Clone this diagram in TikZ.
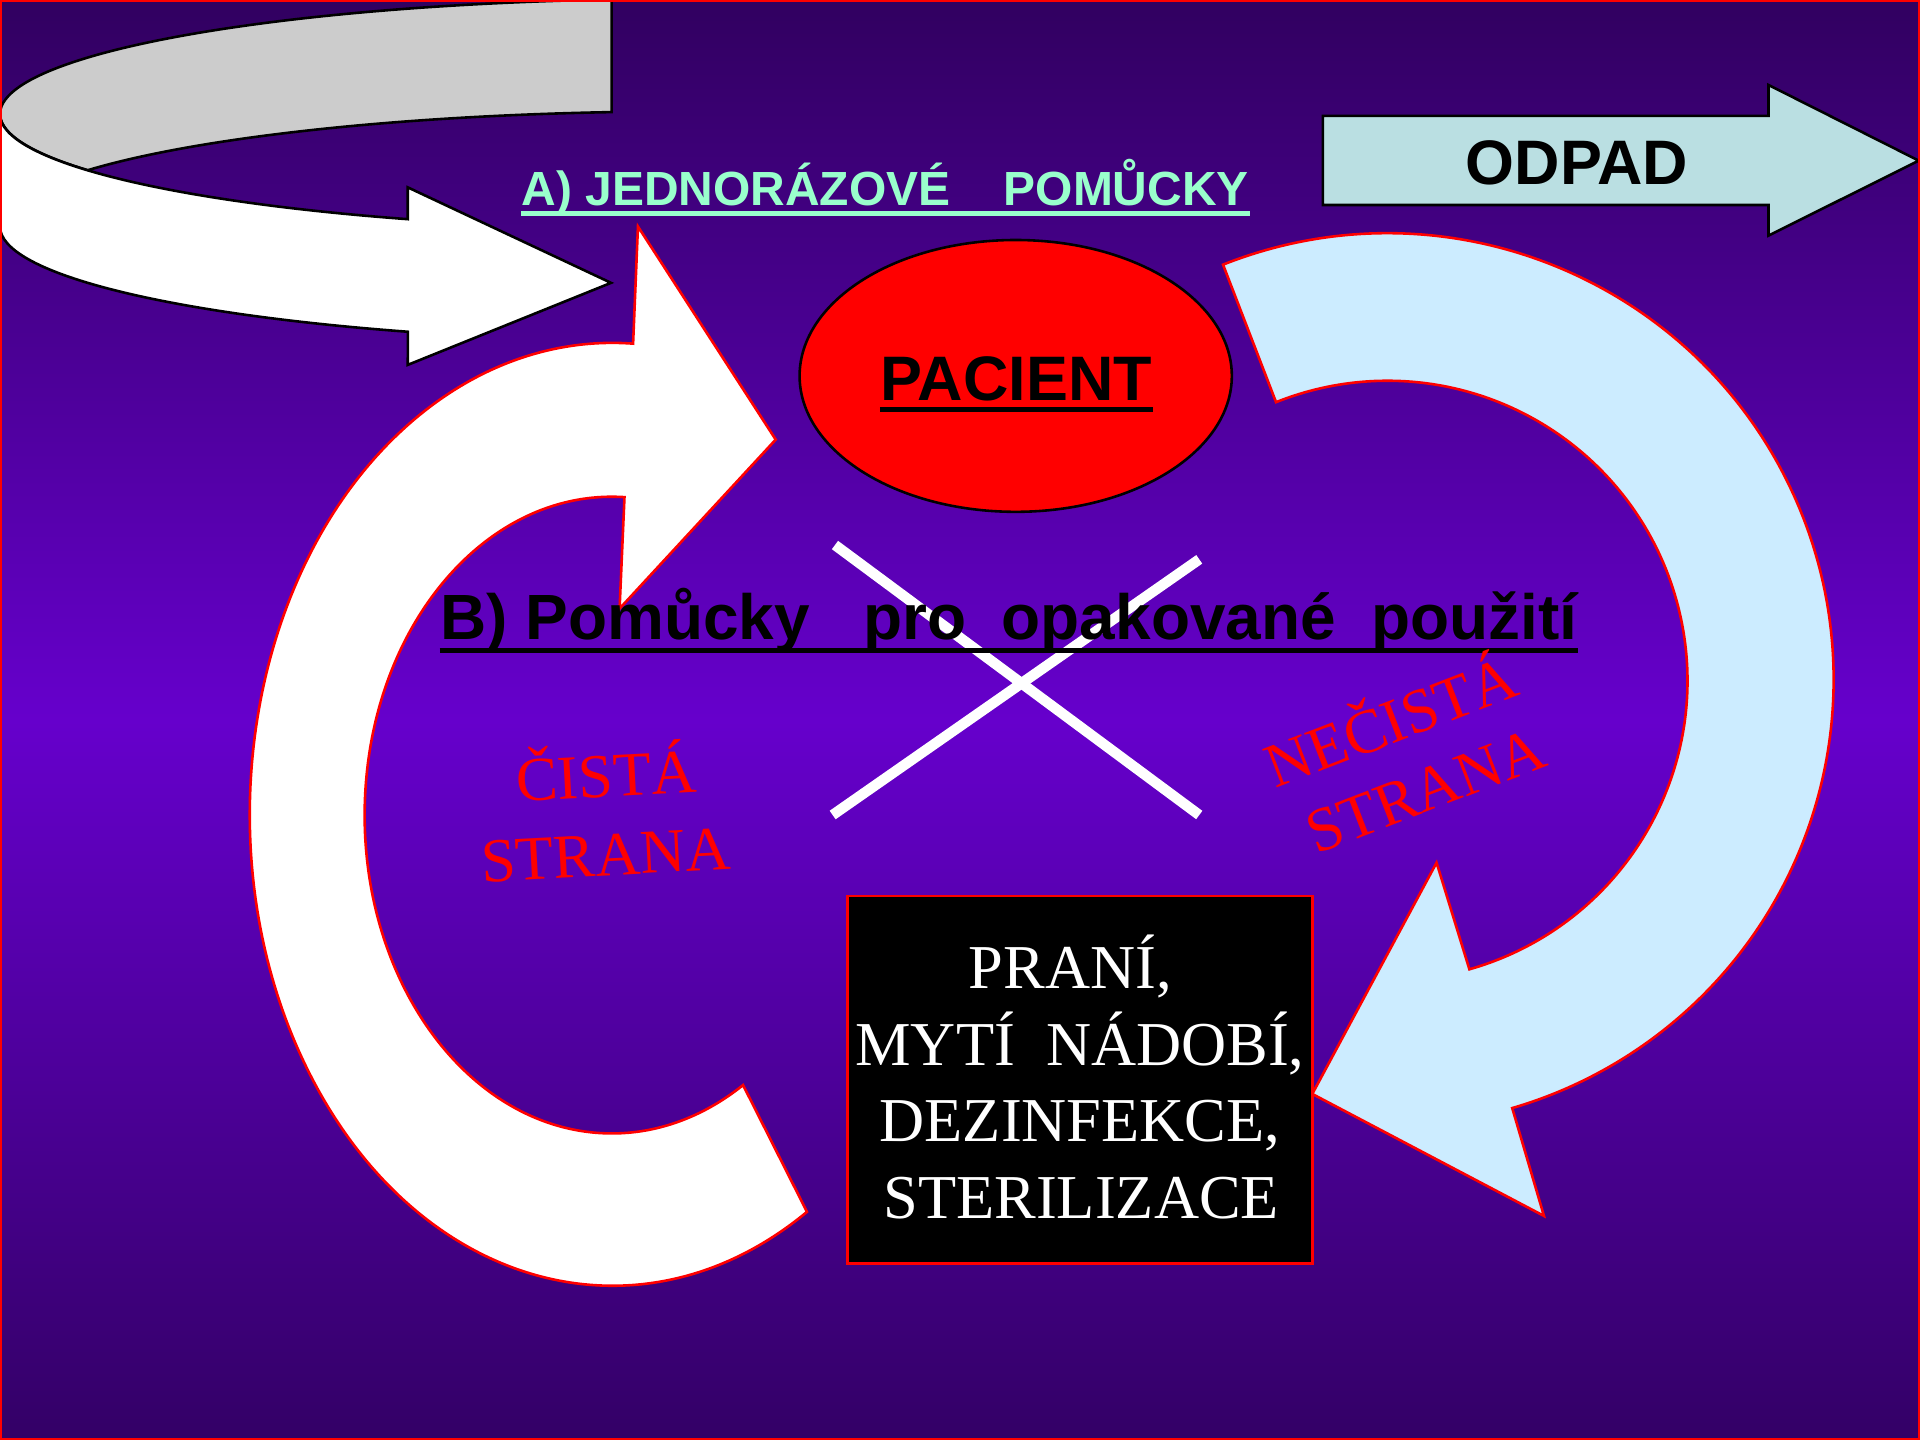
\documentclass[tikz,border=0pt]{standalone}
\usepackage{fontspec}
\setmainfont{Liberation Serif}
\newfontfamily\arialfont{Liberation Sans}
\usetikzlibrary{calc}

\definecolor{bgtop}{HTML}{310060}
\definecolor{bgbot}{HTML}{330066}
\definecolor{bgmid}{HTML}{6600CC}
\definecolor{aqua}{HTML}{99FFCC}
\definecolor{ribgray}{HTML}{CCCCCC}
\definecolor{odpadfill}{HTML}{BADFE2}
\definecolor{skyfill}{HTML}{CCECFF}
\definecolor{pptred}{HTML}{FF0000}

\begin{document}
\begin{tikzpicture}[x=0.01cm,y=-0.01cm,
  outlineblk/.style={draw=black,line width=0.6pt,line join=miter},
  outlinered/.style={draw=pptred,line width=0.6pt,line join=miter},
  sansbig/.style={font=\arialfont\bfseries\fontsize{14.6}{17}\selectfont,inner sep=0pt,anchor=base},
  sanstitle/.style={font=\arialfont\bfseries\fontsize{14.85}{17}\selectfont,inner sep=0pt,anchor=base},
  sanssmall/.style={font=\arialfont\bfseries\fontsize{11.13}{13}\selectfont,inner sep=0pt,anchor=base},
  serifbig/.style={font=\fontsize{14.5}{17}\selectfont,inner sep=0pt,anchor=base},
  uline/.style={line width=0.04cm},
  crossline/.style={draw=white,line width=0.085cm},
]
\useasboundingbox (0,0) rectangle (1568,1176);
% background
\fill[top color=bgtop, bottom color=bgbot, middle color=bgmid] (0,0) rectangle (1568,1176);

% top-left ribbon arrow: grey back side
\draw[outlineblk, fill=ribgray] (560,93) ++(263.8:560 and 94)
  arc[start angle=263.8, end angle=150.7, x radius=560, y radius=94]
  arc[start angle=209.3, end angle=263.8, x radius=560, y radius=94] -- cycle;
% white front side with arrow head
\draw[outlineblk, fill=white] (0,93) -- (0,185)
  arc[start angle=180, end angle=113.9, x radius=560, y radius=94]
  -- (333,298) -- (499,231) -- (333,153) -- (333,179)
  arc[start angle=113.9, end angle=180, x radius=560, y radius=94] -- cycle;

% title A
\node[sanssmall, text=aqua] (atitle) at (723,167.9) {A) JEDNORÁZOVÉ\ \ \ \ POMŮCKY};
\draw[aqua, uline] ($(atitle.base west)+(0,6.5)$) -- ($(atitle.base east)+(0,6.5)$);

% ODPAD arrow
\draw[outlineblk, fill=odpadfill] (1080.4,94.7) -- (1444.3,94.7) -- (1444.3,69.4)
  -- (1567,131.2) -- (1444.3,192.4) -- (1444.3,167.4) -- (1080.4,167.4) -- cycle;
\node[sansbig] (odpad) at (1288,150.5) {ODPAD};

% right light-blue circular arrow
\draw[outlinered, fill=skyfill] (1133,555) ++(248.4:364.5)
  arc[start angle=248.4, end angle=433.75, radius=364.5]
  -- (1260.9,993) -- (1071.7,893.4) -- (1173.2,704.5) -- (1200,791.6)
  arc[start angle=74.15, end angle=-111.8, radius=245] -- cycle;

% left white circular arrow
\draw[outlinered, fill=white] (500,665) ++(57.5:296 and 385)
  arc[start angle=57.5, end angle=273.3, x radius=296, y radius=385]
  -- (521,185) -- (633.5,359) -- (506,497) -- (510,406)
  arc[start angle=272.9, end angle=58, x radius=202, y radius=260] -- cycle;

% PACIENT
\draw[outlineblk, fill=pptred] (829.5,307) ellipse[x radius=176.5, y radius=111];
\node[sansbig] (pacient) at (830,327) {PACIENT};
\draw[black, uline] ($(pacient.base west)+(0,7.5)$) -- ($(pacient.base east)+(0,7.5)$);

% cross
\coordinate (c1a) at (681.9,445.1);
\coordinate (c1b) at (979.4,665.6);
\coordinate (c2a) at (979.4,456.8);
\coordinate (c2b) at (680,665.6);
\draw[crossline] (c1a) -- (c1b);
\draw[crossline] (c2a) -- (c2b);

% title B
\node[sanstitle] (btitle) at (824,522.6) {B) Pomůcky\ \ \ pro\ \ opakované\ \ použití};
\draw[black, uline] ($(btitle.base west)+(0,9)$) -- ($(btitle.base east)+(0,9)$);

% red labels
\node[serifbig, text=pptred, rotate=3] (cista1) at (496,651) {ČISTÁ};
\node[serifbig, text=pptred, rotate=3] (cista2) at (495.5,715) {STRANA};
\node[serifbig, text=pptred, rotate=21] (necista1) at (1142,605.7) {NEČISTÁ};
\node[serifbig, text=pptred, rotate=21] (necista2) at (1170,661.4) {STRANA};

% black box
\node[draw=pptred, fill=black, line width=0.6pt, minimum width=3.8cm, minimum height=3.0cm, inner sep=0pt] (box) at (882,881.75) {};
\node[serifbig, text=white] (l1) at (874,807.2) {PRANÍ,};
\node[serifbig, text=white] (l2) at (882,869.8) {MYTÍ\ \ NÁDOBÍ,};
\node[serifbig, text=white] (l3) at (882,932.4) {DEZINFEKCE,};
\node[serifbig, text=white] (l4) at (883,995) {STERILIZACE};

% frame
\draw[pptred, line width=0.02cm] (1,1) rectangle (1567,1175);
\end{tikzpicture}
\end{document}
